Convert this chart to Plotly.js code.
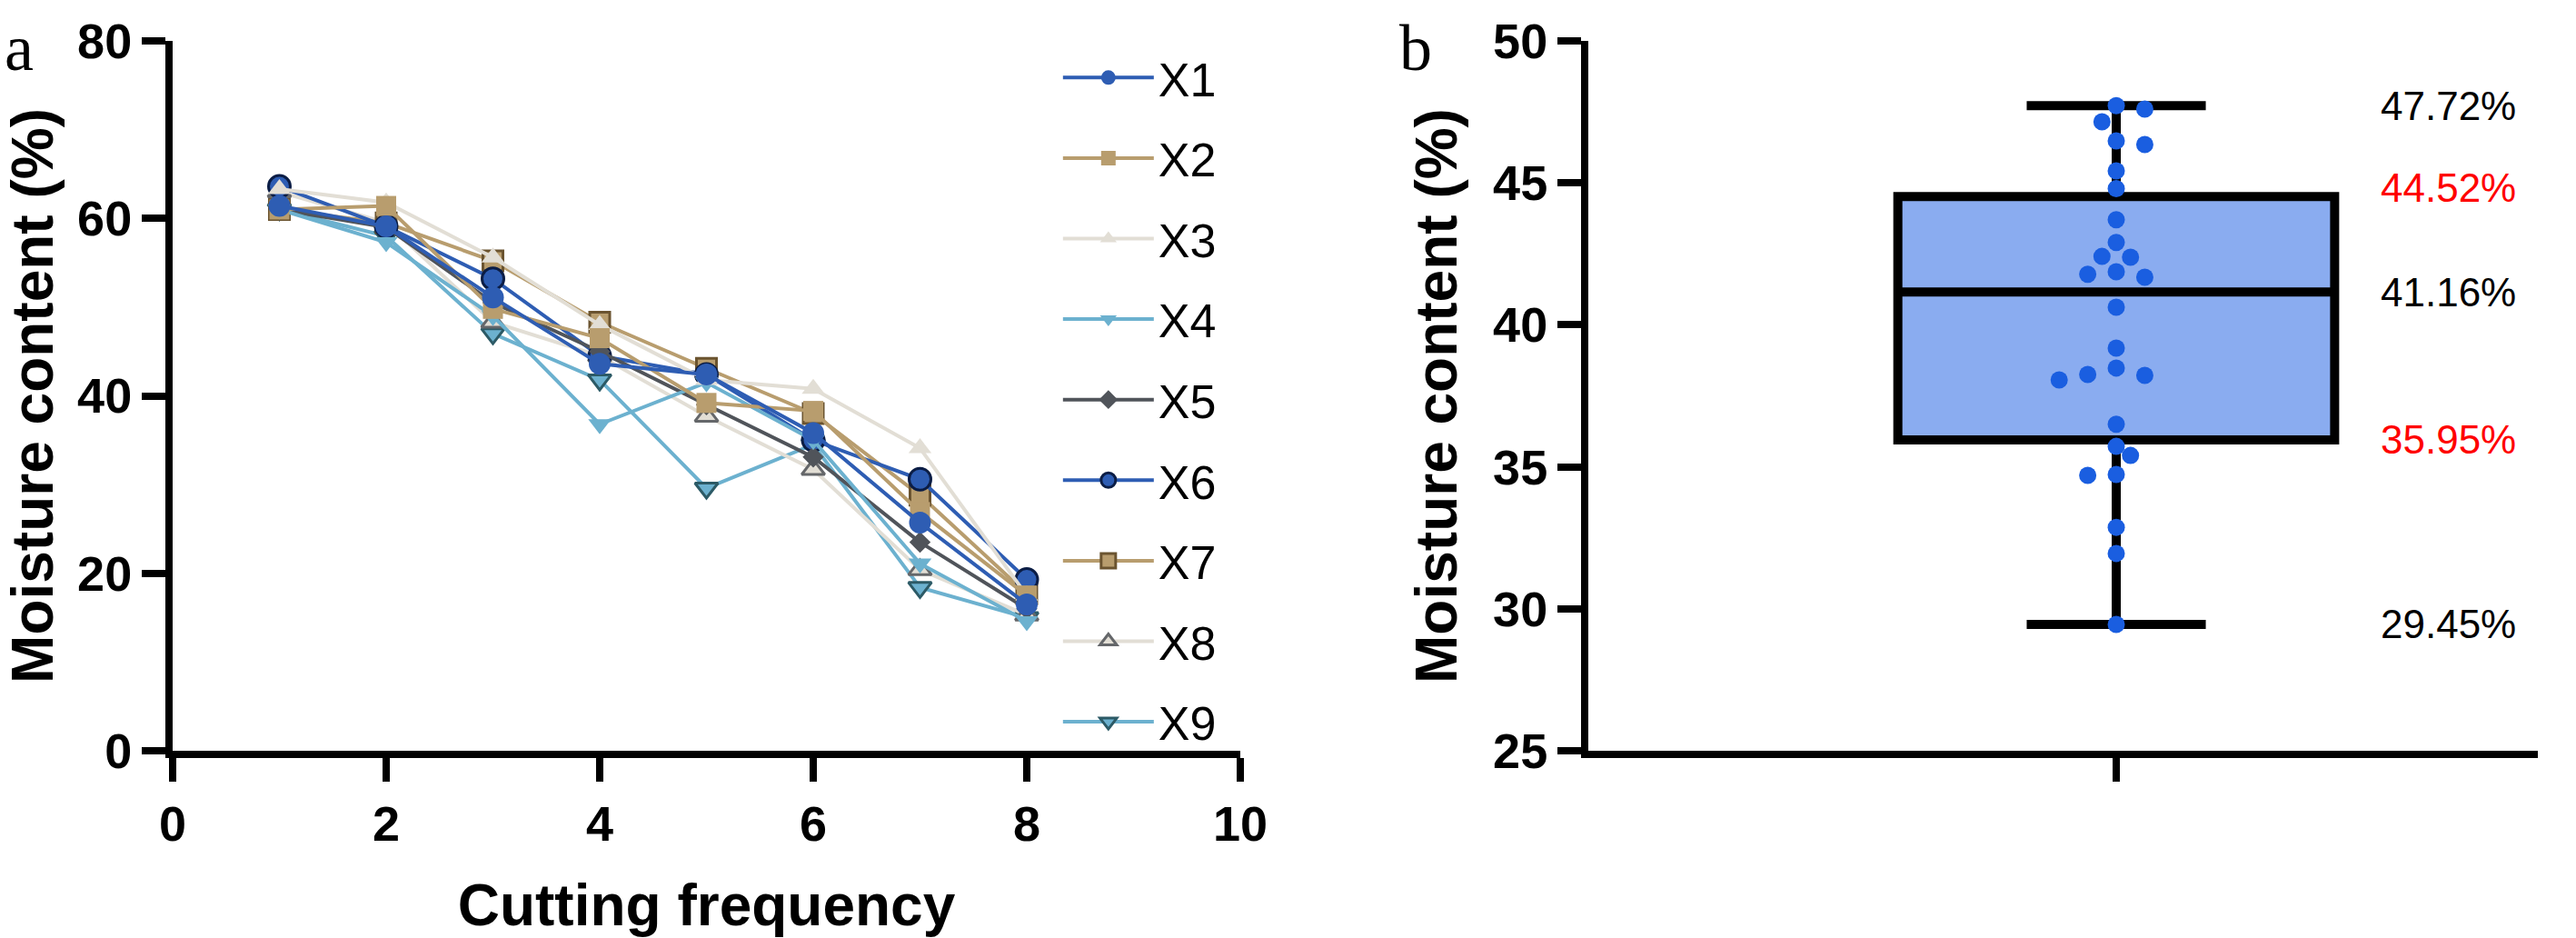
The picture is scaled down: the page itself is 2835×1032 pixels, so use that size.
<!DOCTYPE html>
<html>
<head>
<meta charset="utf-8">
<script src="https://cdn.plot.ly/plotly-3.0.1.min.js"></script>
<style>
  html, body { margin: 0; padding: 0; background: #fff; }
  #chart { width: 2835px; height: 1032px; }
</style>
</head>
<body>
<div id="chart"></div>
<script>
// ---- data ----
var cuttingFrequency = [1, 2, 3, 4, 5, 6, 7, 8];
var seriesNames = ['X1', 'X2', 'X3', 'X4', 'X5', 'X6', 'X7', 'X8', 'X9'];
var x1 = [61.4, 59.1, 51.1, 43.6, 42.4, 35.8, 25.7, 16.5];
var x2 = [61.0, 61.4, 49.8, 46.5, 39.2, 38.3, 26.9, 17.5];
var x3 = [63.3, 61.8, 55.6, 48.0, 41.8, 40.8, 34.1, 17.5];
var x4 = [61.0, 57.3, 49.0, 36.8, 41.5, 35.0, 21.1, 14.6];
var x5 = [61.0, 59.0, 50.5, 45.0, 39.0, 33.1, 23.5, 16.0];
var x6 = [63.6, 59.1, 53.2, 44.5, 42.4, 35.0, 30.6, 19.3];
var x7 = [61.0, 59.5, 55.2, 48.3, 43.1, 38.0, 28.8, 17.7];
var x8 = [63.0, 59.5, 48.3, 44.5, 37.7, 31.7, 20.4, 15.3];
var x9 = [61.0, 58.0, 47.0, 41.8, 29.6, 34.5, 18.4, 15.0];
var seriesValues = [x1, x2, x3, x4, x5, x6, x7, x8, x9];

// panel b: individual moisture values and box summary
var moistureValues = [47.72, 47.6, 47.15, 46.48, 46.35, 45.42, 44.8, 43.7, 42.9,
  42.41, 42.38, 41.87, 41.78, 41.68, 40.62, 39.18, 38.48, 38.25, 38.22, 38.06,
  36.5, 35.72, 35.4, 34.73, 34.7, 32.87, 31.95, 29.45];
var boxStats = [29.45, 35.95, 41.16, 44.52, 47.72]; // min, q1, median, q3, max
var boxLabelColors = ['#000000', '#ff0000', '#000000', '#ff0000', '#000000'];

// ---- styles ----
var BLUE = '#2e5db3', TAN = '#b89d6e', LIGHT = '#e2ded5', SKY = '#6cb1cf', GREY = '#50545a';
var styles = [
  {line: BLUE, fill: BLUE, edge: BLUE, sym: 'circle', size: 24, ew: 0},
  {line: TAN, fill: TAN, edge: TAN, sym: 'square', size: 22, ew: 0},
  {line: LIGHT, fill: LIGHT, edge: LIGHT, sym: 'triangle-up', size: 22, ew: 0},
  {line: SKY, fill: SKY, edge: SKY, sym: 'triangle-down', size: 22, ew: 0},
  {line: GREY, fill: GREY, edge: GREY, sym: 'diamond', size: 18, ew: 0},
  {line: BLUE, fill: BLUE, edge: '#0b1d45', sym: 'circle', size: 24, ew: 3},
  {line: TAN, fill: TAN, edge: '#6b5430', sym: 'square', size: 22, ew: 3},
  {line: LIGHT, fill: LIGHT, edge: '#65676a', sym: 'triangle-up', size: 22, ew: 3},
  {line: SKY, fill: SKY, edge: '#2c5a66', sym: 'triangle-down', size: 22, ew: 3}
];

var W = 2835, H = 1032;
var M = {l: 190, r: 42, t: 45, b: 206};
var plotW = W - M.l - M.r, plotH = H - M.t - M.b;
var domA = [0, 1175 / plotW];
var domB = [1558 / plotW, 1];
var rangeB = [-1.112, 0.888];
var FONT = 'Liberation Sans, Arial, sans-serif';
var SERIF = 'Liberation Serif, Times New Roman, serif';

var data = [];
// drawn X9 first so X1 sits on top; legendrank puts X1..X9 back in order
for (var i = seriesNames.length - 1; i >= 0; i--) {
  var s = styles[i];
  data.push({
    type: 'scatter', mode: 'lines+markers',
    name: seriesNames[i], legendgroup: seriesNames[i], legendrank: i + 1,
    x: cuttingFrequency, y: seriesValues[i],
    xaxis: 'x', yaxis: 'y',
    line: {color: s.line, width: 4},
    marker: {symbol: s.sym, size: s.size, color: s.fill, line: {color: s.edge, width: s.ew}},
    cliponaxis: false
  });
}

// box from summary stats
data.push({
  type: 'box', xaxis: 'x2', yaxis: 'y2', showlegend: false,
  x: [0],
  lowerfence: [boxStats[0]], q1: [boxStats[1]], median: [boxStats[2]],
  q3: [boxStats[3]], upperfence: [boxStats[4]],
  width: 0.92, whiskerwidth: 0.41, boxpoints: false,
  fillcolor: '#8aacf0', line: {color: '#000000', width: 10}
});

// simple beeswarm: spread points sideways in pixel space so they do not overlap
var pxPerY = plotH / 25;
var pxPerX = (domB[1] - domB[0]) * plotW / (rangeB[1] - rangeB[0]);
var D = 18, step = 15.7;
var order = moistureValues.map(function(v, k) { return k; })
  .sort(function(a, b) { return moistureValues[b] - moistureValues[a]; });
var placed = [];
var swarmX = new Array(moistureValues.length);
order.forEach(function(k) {
  var py = moistureValues[k] * pxPerY;
  var pos = placed.filter(function(p) { return p.x > 0; }).length;
  var neg = placed.filter(function(p) { return p.x < 0; }).length;
  var sign = pos > neg ? -1 : 1;
  for (var n = 0; n < 20; n++) {
    var cands = n === 0 ? [0] : [sign * n * step, -sign * n * step];
    var found = null;
    for (var c = 0; c < cands.length; c++) {
      var ok = placed.every(function(p) {
        var dx = p.x - cands[c], dy = p.y - py;
        return Math.sqrt(dx * dx + dy * dy) >= D;
      });
      if (ok) { found = cands[c]; break; }
    }
    if (found !== null) { placed.push({x: found, y: py}); swarmX[k] = found / pxPerX; break; }
  }
});

data.push({
  type: 'scatter', mode: 'markers', xaxis: 'x2', yaxis: 'y2', showlegend: false,
  x: swarmX, y: moistureValues,
  marker: {size: 19, color: '#1a5ee0'}
});

function axisBase() {
  return {
    showline: true, linecolor: '#000', linewidth: 8, mirror: false,
    ticks: 'outside', ticklen: 26, tickwidth: 8, tickcolor: '#000',
    showgrid: false, zeroline: false, fixedrange: true,
    tickfont: {family: FONT, size: 54, color: '#000', weight: 'bold'}
  };
}
function titleFont() {
  return {family: FONT, size: 64, color: '#000', weight: 'bold'};
}

var xa = axisBase();
Object.assign(xa, {domain: domA, range: [0, 10], tickvals: [0, 2, 4, 6, 8, 10], anchor: 'y',
  title: {text: 'Cutting frequency', font: titleFont(), standoff: 44}});
var ya = axisBase();
Object.assign(ya, {domain: [0, 1], range: [0, 80], tickvals: [0, 20, 40, 60, 80], anchor: 'x',
  title: {text: 'Moisture content (%)', font: titleFont(), standoff: 22}});
var xb = axisBase();
Object.assign(xb, {domain: domB, range: rangeB, type: 'linear', tickvals: [0], showticklabels: false, anchor: 'y2'});
var yb = axisBase();
Object.assign(yb, {domain: [0, 1], range: [25, 50], tickvals: [25, 30, 35, 40, 45, 50], anchor: 'x2',
  title: {text: 'Moisture content (%)', font: titleFont(), standoff: 22}});

var labelShift = [0, 0, 0, 10, 0];
var annotations = boxStats.map(function(v, k) {
  return {xref: 'x2', yref: 'y2', x: 0.553, y: v, xanchor: 'left', yanchor: 'middle',
    text: v.toFixed(2) + '%', showarrow: false, yshift: labelShift[k],
    font: {family: FONT, size: 44, color: boxLabelColors[k]}};
});
annotations.push({xref: 'paper', yref: 'paper', x: -0.072, y: 0.99, xanchor: 'left', yanchor: 'middle',
  text: 'a', showarrow: false, font: {family: SERIF, size: 72, color: '#000'}});
annotations.push({xref: 'paper', yref: 'paper', x: 0.518, y: 0.99, xanchor: 'left', yanchor: 'middle',
  text: 'b', showarrow: false, font: {family: SERIF, size: 72, color: '#000'}});

var layout = {
  width: W, height: H, margin: M,
  paper_bgcolor: '#fff', plot_bgcolor: '#fff',
  font: {family: FONT, color: '#000'},
  xaxis: xa, yaxis: ya, xaxis2: xb, yaxis2: yb,
  showlegend: true,
  legend: {x: 0.3745, y: 1.0, xanchor: 'left', yanchor: 'top', traceorder: 'grouped',
    tracegroupgap: 18, itemwidth: 100, bgcolor: 'rgba(0,0,0,0)',
    font: {family: FONT, size: 52, color: '#000'}},
  annotations: annotations
};

Plotly.newPlot('chart', data, layout, {staticPlot: true, displayModeBar: false});
</script>
</body>
</html>
